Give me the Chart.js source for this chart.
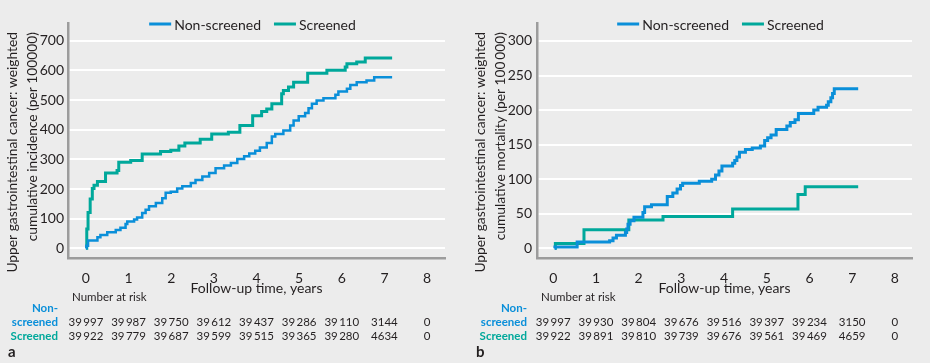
<!DOCTYPE html>
<html>
<head>
<meta charset="utf-8">
<script src="https://cdn.jsdelivr.net/npm/chart.js@4"></script>
<style>
  body { margin: 0; background: #ececec; }
  #wrap { display: flex; width: 930px; height: 363px; }
  canvas { display: block; }
</style>
</head>
<body>
<div id="wrap">
  <canvas id="incidenceChart" width="460" height="363"></canvas>
  <canvas id="mortalityChart" width="470" height="363"></canvas>
</div>
<script>
const BLUE = '#0a8fd9';
const TEAL = '#00a89b';
const INK = '#231f20';
const FONT = 'Lato';

const xTicks = [0, 1, 2, 3, 4, 5, 6, 7, 8];
const incidenceTicks = [0, 100, 200, 300, 400, 500, 600, 700];
const mortalityTicks = [0, 50, 100, 150, 200, 250, 300];
const seriesNames = ['Non-screened', 'Screened'];

// panel a: cumulative incidence, step points (years, per 100 000)
const incNonTime = [0, 0.01, 0.05, 0.27, 0.34, 0.5, 0.7, 0.81, 0.93, 0.97, 1.13, 1.2, 1.32, 1.4, 1.48, 1.64, 1.79, 1.87, 1.99, 2.14, 2.26, 2.46, 2.57, 2.73, 2.89, 3.04, 3.24, 3.4, 3.55, 3.71, 3.83, 3.97, 4.08, 4.24, 4.36, 4.44, 4.63, 4.79, 4.87, 4.99, 5.14, 5.22, 5.3, 5.41, 5.57, 5.85, 5.92, 6.12, 6.2, 6.35, 6.58, 6.76, 7.18];
const incNonValue = [0, 9, 26, 37, 45, 54, 62, 69, 82, 90, 97, 104, 119, 130, 142, 153, 169, 187, 191, 202, 209, 220, 230, 242, 254, 270, 279, 288, 301, 310, 320, 329, 340, 355, 377, 385, 397, 414, 431, 445, 456, 472, 487, 498, 506, 518, 529, 538, 551, 560, 566, 577, 577];
const incScrTime = [0, 0.02, 0.05, 0.1, 0.15, 0.19, 0.27, 0.46, 0.73, 0.77, 1.05, 1.32, 1.75, 1.99, 2.18, 2.32, 2.68, 2.95, 3.34, 3.61, 3.91, 4.12, 4.24, 4.36, 4.59, 4.63, 4.75, 4.87, 5.2, 5.65, 6.08, 6.12, 6.35, 6.55, 7.18];
const incScrValue = [0, 65, 121, 166, 202, 213, 225, 254, 262, 290, 296, 318, 326, 331, 345, 355, 368, 385, 391, 414, 447, 461, 470, 487, 521, 532, 544, 560, 590, 600, 611, 622, 628, 642, 642];

// panel b: cumulative mortality
const morNonTime = [0.03, 0.04, 0.56, 1.32, 1.4, 1.48, 1.69, 1.72, 1.75, 1.8, 1.89, 2.1, 2.14, 2.3, 2.67, 2.8, 2.9, 2.98, 3.03, 3.42, 3.71, 3.8, 3.88, 3.95, 4.2, 4.25, 4.3, 4.36, 4.5, 4.66, 4.85, 4.95, 5.02, 5.1, 5.22, 5.47, 5.55, 5.66, 5.74, 6.1, 6.2, 6.4, 6.44, 6.5, 6.54, 6.58, 7.14];
const morNonValue = [0, 2, 9, 11, 15, 19, 23, 28, 35, 40, 45, 52, 60, 63, 75, 80, 86, 91, 94, 97, 100, 106, 112, 119, 123, 127, 132, 139, 143, 145, 148, 156, 160, 164, 172, 177, 182, 186, 195, 200, 204, 207, 212, 218, 224, 231, 231];
const morScrTime = [0.04, 0.05, 0.72, 1.77, 2.57, 4.2, 5.73, 5.9, 7.14];
const morScrValue = [0, 7, 27, 41, 46, 57, 78, 89, 89];

// number at risk at years 0..8
const incRiskNon = [39997, 39987, 39750, 39612, 39437, 39286, 39110, 3144, 0];
const incRiskScr = [39922, 39779, 39687, 39599, 39515, 39365, 39280, 4634, 0];
const morRiskNon = [39997, 39930, 39804, 39676, 39516, 39397, 39234, 3150, 0];
const morRiskScr = [39922, 39891, 39810, 39739, 39676, 39561, 39469, 4659, 0];

function pts(t, v) { return t.map((x, i) => ({ x: x, y: v[i] })); }
function fmt(n) {
  const s = String(n);
  return s.length > 4 ? s.slice(0, s.length - 3) + '\u2009' + s.slice(-3) : s;
}

const extras = {
  id: 'extras',
  afterDraw(chart, args, o) {
    const { ctx, chartArea: a } = chart;
    const x = chart.scales.x;
    ctx.save();
    ctx.fillStyle = INK;

    // legend
    ctx.font = '14px ' + FONT;
    ctx.textBaseline = 'middle';
    const w1 = ctx.measureText(seriesNames[0]).width;
    const w2 = ctx.measureText(seriesNames[1]).width;
    const total = 22 + 3 + w1 + 13 + 22 + 3 + w2;
    let lx = (a.left + a.right) / 2 - 4 - total / 2;
    const ly = 24;
    [[BLUE, seriesNames[0], w1], [TEAL, seriesNames[1], w2]].forEach(([c, t, w]) => {
      ctx.strokeStyle = c; ctx.lineWidth = 3;
      ctx.beginPath(); ctx.moveTo(lx, ly); ctx.lineTo(lx + 22, ly); ctx.stroke();
      ctx.fillStyle = INK; ctx.textAlign = 'left';
      ctx.fillText(t, lx + 25, ly + 1);
      lx += 25 + w + 13;
    });

    // y title, two rotated lines, ending at the top
    ctx.font = '13.8px ' + FONT;
    o.yTitle.forEach((t, i) => {
      ctx.save();
      ctx.translate(o.yTitleX + i * 20, 32);
      ctx.rotate(-Math.PI / 2);
      ctx.textAlign = 'right';
      ctx.textBaseline = 'middle';
      ctx.fillText(t, 0, 0);
      ctx.restore();
    });

    // number at risk table
    ctx.font = '11.5px ' + FONT;
    ctx.textAlign = 'left';
    ctx.fillText('Number at risk', a.left + 4, 297);
    ctx.font = 'bold 11.5px ' + FONT;
    ctx.textAlign = 'right';
    const lbx = a.left - 10;
    ctx.fillStyle = BLUE;
    ctx.fillText('Non-', lbx, 308);
    ctx.fillText('screened', lbx, 322);
    ctx.fillStyle = TEAL;
    ctx.fillText('Screened', lbx, 336);
    ctx.font = '11.5px ' + FONT;
    ctx.fillStyle = INK;
    ctx.textAlign = 'center';
    xTicks.forEach((t, i) => {
      const px = x.getPixelForValue(t);
      ctx.fillText(fmt(o.riskNon[i]), px, 322);
      ctx.fillText(fmt(o.riskScr[i]), px, 336);
    });

    // panel letter
    ctx.font = 'bold 15px ' + FONT;
    ctx.textAlign = 'left';
    ctx.fillText(o.letter, o.letterX, 352);
    ctx.restore();
  }
};

function makeChart(id, cfg) {
  const ctx = document.getElementById(id).getContext('2d');
  return new Chart(ctx, {
    type: 'line',
    data: {
      datasets: [{
        label: seriesNames[0],
        data: pts(cfg.nonT, cfg.nonV),
        borderColor: BLUE,
        borderWidth: cfg.blueWidth,
        stepped: 'before',
        pointRadius: 0,
        fill: false,
      }, {
        label: seriesNames[1],
        data: pts(cfg.scrT, cfg.scrV),
        borderColor: TEAL,
        borderWidth: 3,
        stepped: 'before',
        pointRadius: 0,
        fill: false,
      }]
    },
    options: {
      responsive: false,
      animation: false,
      layout: { padding: { left: 0, right: cfg.padRight, top: 23, bottom: 0 } },
      plugins: {
        legend: { display: false },
        tooltip: { enabled: false },
        extras: cfg.extras,
      },
      scales: {
        x: {
          type: 'linear',
          min: cfg.xMin,
          max: cfg.xMax,
          afterBuildTicks: s => { s.ticks = xTicks.map(v => ({ value: v })); },
          afterFit: s => { s.height = 105; },
          grid: { display: false },
          border: { display: true, color: '#9c9c9c', width: 2.5 },
          ticks: { color: INK, font: { family: FONT, size: 14 }, padding: 4, maxRotation: 0 },
          title: {
            display: true,
            text: 'Follow-up time, years',
            color: INK,
            font: { family: FONT, size: 14 },
            padding: { top: 0, bottom: 66 },
          },
        },
        y: {
          min: cfg.yMin,
          max: cfg.yMax,
          afterBuildTicks: s => { s.ticks = cfg.yTicks.map(v => ({ value: v })); },
          afterFit: s => { s.width = cfg.yWidth; },
          grid: { color: '#ffffff', lineWidth: 2, drawTicks: false },
          border: { display: true, color: '#9c9c9c', width: 2.5 },
          ticks: { color: INK, font: { family: FONT, size: 14 }, padding: cfg.yPad },
        }
      }
    },
    plugins: [extras]
  });
}

const incidenceChart = makeChart('incidenceChart', {
  nonT: incNonTime, nonV: incNonValue, scrT: incScrTime, scrV: incScrValue,
  blueWidth: 2.5,
  xMin: -0.42, xMax: 8.42, yMin: -32.7, yMax: 759.7,
  yTicks: incidenceTicks, yWidth: 68, yPad: 4, padRight: 15,
  extras: {
    yTitle: ['Upper gastrointestinal cancer: weighted', 'cumulative incidence (per 100000)'],
    yTitleX: 13, riskNon: incRiskNon, riskScr: incRiskScr, letter: 'a', letterX: 8,
  },
});

const mortalityChart = makeChart('mortalityChart', {
  nonT: morNonTime, nonV: morNonValue, scrT: morScrTime, scrV: morScrValue,
  blueWidth: 3,
  xMin: -0.38, xMax: 8.4, yMin: -14, yMax: 326,
  yTicks: mortalityTicks, yWidth: 77, yPad: 5, padRight: 18,
  extras: {
    yTitle: ['Upper gastrointestinal cancer: weighted', 'cumulative mortality (per 100\u2009000)'],
    yTitleX: 21, riskNon: morRiskNon, riskScr: morRiskScr, letter: 'b', letterX: 16,
  },
});
</script>
</body>
</html>
